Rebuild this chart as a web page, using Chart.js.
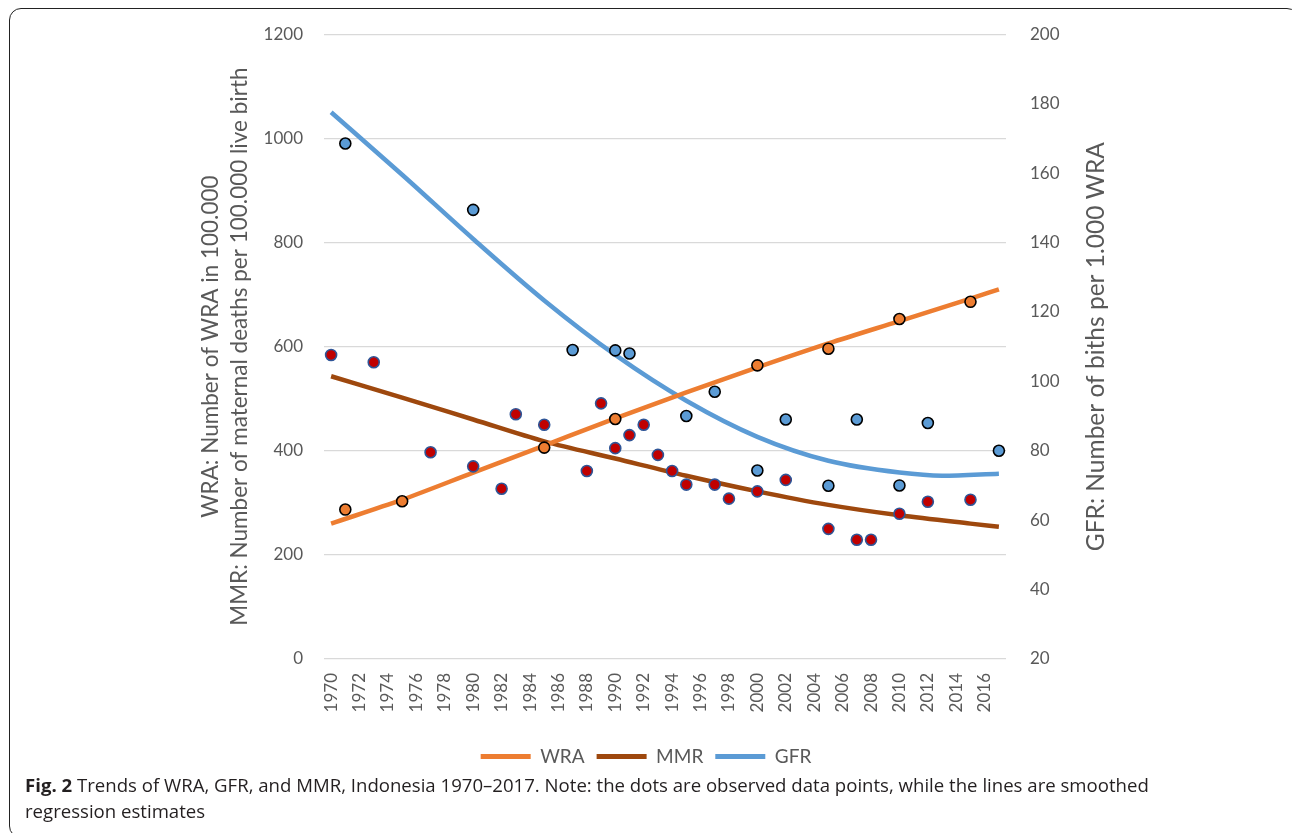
<!DOCTYPE html>
<html>
<head>
<meta charset="utf-8">
<script src="https://cdn.jsdelivr.net/npm/chart.js@4.4.1/dist/chart.umd.min.js"></script>
<style>
  html, body { margin: 0; padding: 0; background: #fff; }
  body { width: 1292px; height: 833px; position: relative; overflow: hidden; }
  #frame {
    position: absolute; left: 9px; top: 8px; width: 1290px; height: 830px;
    border: 1.5px solid #222; border-radius: 12px; box-sizing: border-box;
  }
  #wrap { position: absolute; left: 0; top: 0; width: 1292px; height: 776px; }
  #caption {
    position: absolute; left: 25px; top: 772px; white-space: nowrap;
    font-family: "Open Sans", sans-serif; font-size: 18.6px; line-height: 26px; color: #231f20;
  }
  #caption b { font-weight: 700; }
</style>
</head>
<body>
<div id="frame"></div>
<div id="wrap"><canvas id="chart"></canvas></div>
<div id="caption"><b>Fig. 2</b> Trends of WRA, GFR, and MMR, Indonesia 1970–2017. Note: the dots are observed data points, while the lines are smoothed<br>regression estimates</div>
<script>
// categories on the x axis
const years = ['1970','1971','1972','1973','1974','1975','1976','1977','1978','1979',
  '1980','1981','1982','1983','1984','1985','1986','1987','1988','1989',
  '1990','1991','1992','1993','1994','1995','1996','1997','1998','1999',
  '2000','2001','2002','2003','2004','2005','2006','2007','2008','2009',
  '2010','2011','2012','2013','2014','2015','2016','2017']

// smoothed regression lines
const fitYears = ['1970','1975','1980','1985','1990','1995','2000','2005','2010','2015','2017']
const wraFit = [260, 306, 358, 410, 462, 512, 560, 606, 649, 692, 710]
const mmrFit = [543, 502, 460, 418, 385, 352, 322, 296, 276, 260, 254]
const gfrFitYears = ['1970','1975','1980','1985','1990','1995','2000','2005','2010','2013','2017']
const gfrFit = [177.5, 159.5, 141, 123.3, 107.6, 94.4, 84, 77.1, 73.7, 72.8, 73.4]

// observed data points
const wraObsYears = ['1971','1975','1985','1990','2000','2005','2010','2015']
const wraObs = [287, 303, 406, 461, 564, 596, 653, 686]
const mmrObsYears = ['1970','1973','1977','1980','1982','1983','1985','1988','1989','1990','1991','1992','1993',
  '1994','1995','1997','1998','2000','2002','2005','2007','2008','2010','2012','2015']
const mmrObs = [584, 570, 397, 370, 327, 470, 450, 361, 491, 405, 430, 450, 392,
  361, 335, 335, 308, 322, 344, 250, 229, 229, 279, 302, 306]
const gfrObsYears = ['1971','1980','1987','1990','1991','1995','1997','2000','2002','2005','2007','2010','2012','2017']
const gfrObs = [168.5, 149.4, 109, 108.9, 108, 90, 97, 74.3, 89, 69.9, 89, 70, 88, 80]

const leftTitle1 = 'WRA: Number of WRA in 100.000'
const leftTitle2 = 'MMR: Number of maternal deaths per 100.000 live birth'
const rightTitle = 'GFR: Number of biths per 1.000 WRA'

const WRA_C = '#ed7d31', MMR_C = '#9e480e', GFR_C = '#5b9bd5'
const TXT = '#595959'
const FONT = 'Lato, "Open Sans", sans-serif'

const pts = (xs, ys) => xs.map((x, i) => ({x: x, y: ys[i]}))

const fitLine = (label, xs, ys, color, axis) => ({
  type: 'line', label: label, data: pts(xs, ys), yAxisID: axis,
  borderColor: color, backgroundColor: color, borderWidth: 4.5,
  cubicInterpolationMode: 'monotone', pointRadius: 0, order: 2, isFit: true
})

const dots = (label, xs, ys, fill, edge, axis) => ({
  type: 'line', label: label, data: pts(xs, ys), yAxisID: axis, showLine: false,
  pointRadius: 5.5, pointBorderWidth: 1.6, pointBackgroundColor: fill,
  pointBorderColor: edge, order: 1
})

// rotated axis titles, placed by hand
const axisTitles = {
  id: 'axisTitles',
  afterDraw(chart) {
    const ctx = chart.ctx
    const area = chart.chartArea
    const cy = (area.top + area.bottom) / 2
    ctx.save()
    ctx.fillStyle = TXT
    ctx.textAlign = 'center'
    ctx.textBaseline = 'middle'
    const put = (txt, x, size) => {
      ctx.save(); ctx.translate(x, cy); ctx.rotate(-Math.PI / 2)
      ctx.font = size + 'px ' + FONT
      ctx.fillText(txt, 0, 0); ctx.restore()
    }
    put(leftTitle1, 211, 22.5)
    put(leftTitle2, 240, 22.5)
    put(rightTitle, 1096, 24.5)
    ctx.restore()
  }
}

new Chart(document.getElementById('chart'), {
  data: {
    labels: years,
    datasets: [
      fitLine('WRA', fitYears, wraFit, WRA_C, 'y'),
      fitLine('MMR', fitYears, mmrFit, MMR_C, 'y'),
      fitLine('GFR', gfrFitYears, gfrFit, GFR_C, 'y2'),
      dots('MMR obs', mmrObsYears, mmrObs, '#c00000', '#2f5597', 'y'),
      dots('WRA obs', wraObsYears, wraObs, WRA_C, '#000', 'y'),
      dots('GFR obs', gfrObsYears, gfrObs, GFR_C, '#000', 'y2')
    ]
  },
  options: {
    responsive: true,
    maintainAspectRatio: false,
    animation: false,
    layout: {padding: {top: 32, left: 0, right: 0, bottom: 0}},
    plugins: {
      tooltip: {enabled: false},
      legend: {
        position: 'bottom',
        labels: {
          font: {family: FONT, size: 19}, color: TXT,
          boxWidth: 50, boxHeight: 5, padding: 12,
          generateLabels(chart) {
            return chart.data.datasets
              .map((ds, i) => ({ds, i}))
              .filter(o => o.ds.isFit)
              .map(o => ({
                text: o.ds.label, fillStyle: o.ds.borderColor, strokeStyle: o.ds.borderColor,
                lineWidth: 0, fontColor: TXT, datasetIndex: o.i, hidden: false
              }))
          }
        }
      }
    },
    scales: {
      x: {
        type: 'category',
        offset: true,
        grid: {display: false},
        border: {display: false},
        ticks: {
          autoSkip: false, maxRotation: 90, minRotation: 90, padding: 6,
          color: TXT, font: {family: FONT, size: 17},
          callback(v, i) { return i % 2 === 0 ? this.getLabelForValue(v) : '' }
        },
        afterFit(s) { s.height = s.chart.height - 659 - s.chart.legend.height }
      },
      y: {
        position: 'left', min: 0, max: 1200,
        grid: {color: '#d9d9d9', lineWidth: 1.3, drawTicks: false},
        border: {display: false},
        ticks: {stepSize: 200, padding: 21, color: TXT, font: {family: FONT, size: 17},
          callback: v => String(v)},
        afterFit(s) { s.width = 324 }
      },
      y2: {
        position: 'right', min: 20, max: 200,
        grid: {drawOnChartArea: false, drawTicks: false},
        border: {display: false},
        ticks: {stepSize: 20, padding: 24, color: TXT, font: {family: FONT, size: 17},
          callback: v => String(v)},
        afterFit(s) { s.width = 286 }
      }
    }
  },
  plugins: [axisTitles]
})
</script>
</body>
</html>
